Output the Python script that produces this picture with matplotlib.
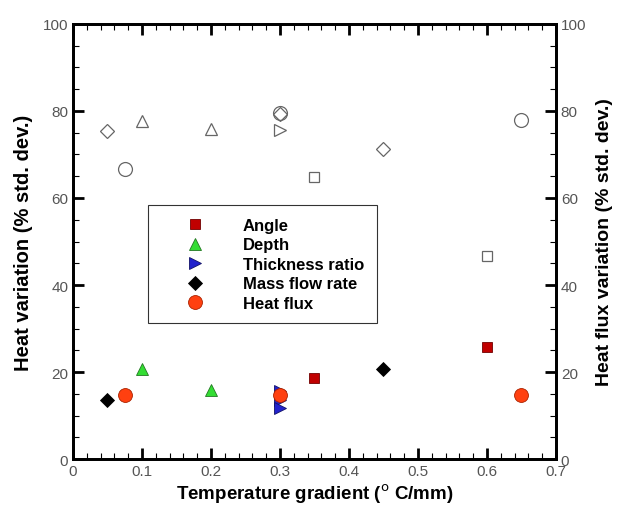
import matplotlib
matplotlib.use("Agg")
import matplotlib.pyplot as plt
from matplotlib.ticker import MultipleLocator, FuncFormatter

plt.rcParams['font.family'] = ['Liberation Sans', 'DejaVu Sans']

# Filled markers: heat variation (left axis)
angle_x = [0.35, 0.6]
angle_y = [18.6, 25.7]
depth_x = [0.1, 0.2]
depth_y = [20.8, 15.9]
thick_x = [0.3, 0.3, 0.3]
thick_y = [15.7, 13.5, 11.8]
mass_x = [0.05, 0.45]
mass_y = [13.6, 20.7]
flux_x = [0.075, 0.3, 0.65]
flux_y = [14.6, 14.6, 14.6]

# Open markers: heat flux variation (right axis)
angle_ox = [0.35, 0.6]
angle_oy = [64.8, 46.7]
depth_ox = [0.1, 0.2]
depth_oy = [77.6, 75.9]
thick_ox = [0.3]
thick_oy = [75.7]
mass_ox = [0.05, 0.3, 0.45]
mass_oy = [75.5, 79.3, 71.3]
flux_ox = [0.075, 0.3, 0.65]
flux_oy = [66.7, 79.5, 78.0]

labels = ["Angle", "Depth", "Thickness ratio", "Mass flow rate", "Heat flux"]

fig = plt.figure(figsize=(6.17, 5.06), dpi=100)
ax = fig.add_axes([0.1183, 0.0909, 0.7827, 0.8597])
ax2 = ax.twinx()

gray = '#666666'
ax2.plot(angle_ox, angle_oy, 's', mfc='none', mec=gray, ms=7, mew=0.9)
ax2.plot(depth_ox, depth_oy, '^', mfc='none', mec=gray, ms=8, mew=0.9)
ax2.plot(thick_ox, thick_oy, '>', mfc='none', mec=gray, ms=8, mew=0.9)
ax2.plot(mass_ox, mass_oy, 'D', mfc='none', mec=gray, ms=7, mew=0.9)
ax2.plot(flux_ox, flux_oy, 'o', mfc='none', mec=gray, ms=10, mew=0.9)
ax2.set_ylim(0, 100)

ax.plot(angle_x, angle_y, 's', color='#c00000', mec='#700000', ms=7, mew=0.6, label=labels[0])
ax.plot(depth_x, depth_y, '^', color='#33dd33', mec='#227722', ms=9, mew=0.6, label=labels[1])
ax.plot(thick_x, thick_y, '>', color='#2222cc', mec='#111166', ms=8, mew=0.6, label=labels[2])
ax.plot(mass_x, mass_y, 'D', color='black', mec='black', ms=7, mew=0.6, label=labels[3])
ax.plot(flux_x, flux_y, 'o', color='#ff4010', mec='#aa2200', ms=10, mew=0.6, label=labels[4])
ax.set_zorder(ax2.get_zorder() + 1)
ax.patch.set_visible(False)

ax.set_xlim(0, 0.7)
ax.set_ylim(0, 100)
ax.xaxis.set_major_locator(MultipleLocator(0.1))
ax.xaxis.set_minor_locator(MultipleLocator(0.02))
ax.xaxis.set_major_formatter(FuncFormatter(lambda v, p: '0' if abs(v) < 1e-9 else f'{v:.1f}'))
for a in (ax, ax2):
    a.yaxis.set_major_locator(MultipleLocator(20))
    a.yaxis.set_minor_locator(MultipleLocator(5))
    for s in a.spines.values():
        s.set_linewidth(2)

ax.tick_params(which='both', direction='in', top=True, labelcolor='#555555', labelsize=11)
ax.tick_params(which='major', length=8, width=2)
ax.tick_params(which='minor', length=4, width=0.8)
ax2.tick_params(which='both', direction='in', labelcolor='#555555', labelsize=11)
ax2.tick_params(which='major', length=8, width=2)
ax2.tick_params(which='minor', length=4, width=0.8)

ax.set_xlabel("Temperature gradient ($^{\\rm o}$ C/mm)", fontsize=13.5, fontweight='bold', labelpad=3)
ax.set_ylabel("Heat variation (% std. dev.)", fontsize=14.5, fontweight='bold', labelpad=7)
ax2.set_ylabel("Heat flux variation (% std. dev.)", fontsize=14, fontweight='bold', labelpad=7)

leg = ax.legend(loc='upper left', bbox_to_anchor=(0.155, 0.583), frameon=True, fancybox=False,
                edgecolor='black', prop={'weight': 'bold', 'size': 12}, handletextpad=0.85,
                borderpad=0.75, labelspacing=0.27, handlelength=4.1, borderaxespad=0)
leg.get_frame().set_linewidth(0.8)

fig.savefig("out.png", dpi=100)
